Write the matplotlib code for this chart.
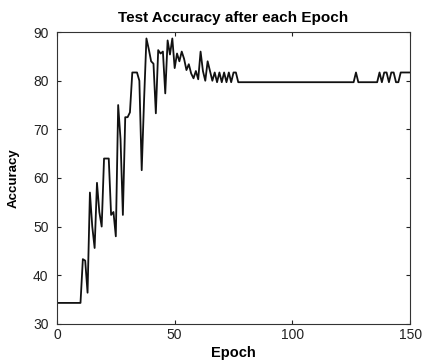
import matplotlib
matplotlib.use('Agg')
import matplotlib.pyplot as plt
import numpy as np

# ─── Data ─────────────────────────────────────────────────────────
epochs = np.arange(0, 151)

acc_start = [34.3] * 11                       # epochs 0-10
acc_rise = [43.3, 43.0, 36.4, 57.0, 50.0, 45.6, 59.0, 53.0, 50.0,   # 11-19
            64.0, 64.0, 64.0, 52.4, 53.0, 48.0, 75.0, 68.0, 52.4,   # 20-28
            72.5, 72.5, 73.5, 81.7, 81.7, 81.7, 80.0, 61.6, 76.0,   # 29-37
            88.7, 86.5, 84.0, 83.5, 73.3, 86.3, 85.6, 86.0, 77.4,   # 38-46
            88.3, 85.4, 88.7, 82.6, 85.6, 84.0, 86.0, 84.5, 82.2,   # 47-55
            83.4, 81.5, 80.5, 82.0, 80.3, 86.0, 82.0, 80.0, 84.0,   # 56-64
            82.0, 80.0, 81.7, 79.7, 81.7, 79.7, 81.7, 79.7, 81.7,   # 65-73
            79.7, 81.7, 81.7, 79.7]                                  # 74-77
acc_flat = [79.7] * 49                        # epochs 78-126
acc_tail = [81.7, 79.7, 79.7, 79.7, 79.7, 79.7, 79.7, 79.7, 79.7,   # 127-135
            79.7, 81.7, 79.7, 81.7, 81.7, 79.7, 81.7, 81.7, 79.7,   # 136-144
            79.7, 81.7, 81.7, 81.7, 81.7, 81.7]                     # 145-150
accuracy = np.array(acc_start + acc_rise + acc_flat + acc_tail)

x_ticks = [0, 50, 100, 150]
y_ticks = [30, 40, 50, 60, 70, 80, 90]

# ─── Plot ─────────────────────────────────────────────────────────
plt.rcParams['font.family'] = ['Liberation Sans', 'DejaVu Sans']

fig = plt.figure(figsize=(4.25, 3.61), dpi=100)
ax = fig.add_axes([0.134, 0.103, 0.831, 0.808])

ax.plot(epochs, accuracy, '-', color='#111111', linewidth=1.3)

ax.set_xlim(0, 150)
ax.set_ylim(30, 90)
ax.set_xticks(x_ticks)
ax.set_yticks(y_ticks)
ax.tick_params(direction='in', top=True, right=True, length=3,
               labelsize=10, colors='#222222')
ax.tick_params(axis='y', pad=6)
ax.tick_params(axis='x', pad=3)
for s in ax.spines.values():
    s.set_linewidth(0.8)
    s.set_color('#333333')

ax.set_title('Test Accuracy after each Epoch', fontsize=11,
             fontweight='bold', pad=7)
ax.set_xlabel('Epoch', fontsize=10.5, fontweight='bold', labelpad=3)
ax.set_ylabel('Accuracy', fontsize=9.5, fontweight='bold', labelpad=10)

plt.savefig('out.png', dpi=100)
plt.close()
